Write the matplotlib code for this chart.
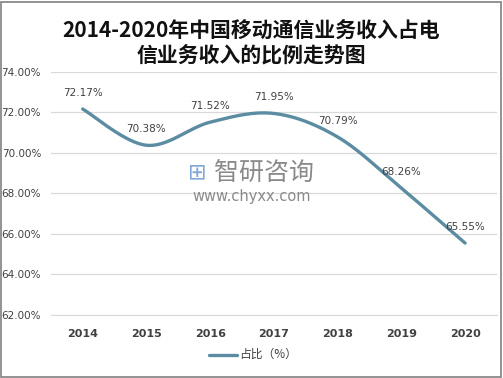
import numpy as np
import matplotlib
matplotlib.use("Agg")
import matplotlib.pyplot as plt
from matplotlib.patches import Rectangle
from matplotlib.lines import Line2D

plt.rcParams['font.family'] = ['Noto Sans CJK SC', 'DejaVu Sans']

years = ['2014', '2015', '2016', '2017', '2018', '2019', '2020']
share = [72.17, 70.38, 71.52, 71.95, 70.79, 68.26, 65.55]
yticks = [62, 64, 66, 68, 70, 72, 74]
title = '2014-2020年中国移动通信业务收入占电\n信业务收入的比例走势图'
legend_label = '占比（%）'

color = '#5B8CA2'
txt = '#404040'

fig = plt.figure(figsize=(5.03, 3.78), dpi=100)
ax = fig.add_axes([0.101, 0.1667, 0.887, 0.643])

# smooth curve (Catmull-Rom through the data points, like Excel smoothing)
x = np.arange(len(share), dtype=float)
y = np.array(share)
px = np.concatenate([[x[0]], x, [x[-1]]])
py = np.concatenate([[y[0]], y, [y[-1]]])
xs, ys = [], []
for i in range(1, len(px) - 2):
    t = np.linspace(0, 1, 40)
    for arr, out in ((px, xs), (py, ys)):
        p0, p1, p2, p3 = arr[i - 1], arr[i], arr[i + 1], arr[i + 2]
        out.extend(0.5 * ((2 * p1) + (-p0 + p2) * t + (2 * p0 - 5 * p1 + 4 * p2 - p3) * t ** 2
                          + (-p0 + 3 * p1 - 3 * p2 + p3) * t ** 3))
ax.plot(xs, ys, color=color, lw=2.4, solid_capstyle='round', zorder=3)

for xi, v in zip(x, share):
    ax.annotate(f'{v:.2f}%', (xi, v), xytext=(0, 11.5), textcoords='offset points',
                ha='center', va='center', fontsize=7.5, color=txt, family='DejaVu Sans')

ax.set_xlim(-0.5, len(years) - 0.5)
ax.set_ylim(62, 74)
ax.set_yticks(yticks)
ax.set_yticklabels([f'{t:.2f}%' for t in yticks], fontsize=7.5, color=txt, family='DejaVu Sans')
ax.set_xticks(x)
ax.set_xticklabels(years, fontsize=8, fontweight='bold', color=txt, family='DejaVu Sans')
ax.tick_params(axis='both', length=0)
ax.tick_params(axis='y', pad=7)
ax.tick_params(axis='x', pad=10)
ax.grid(axis='y', color='#D9D9D9', lw=0.9)
ax.set_axisbelow(True)
for s in ax.spines.values():
    s.set_visible(False)
ax.spines['bottom'].set_visible(True)
ax.spines['bottom'].set_color('#D9D9D9')

fig.text(0.5, 0.887, title, ha='center', va='center', fontsize=15, fontweight='bold',
         color='#111111', linespacing=1.2)

# watermark
fig.text(0.525, 0.542, '智研咨询', ha='center', va='center', fontsize=18, color='#8A8A8A')
fig.text(0.5, 0.479, 'www.chyxx.com', ha='center', va='center', fontsize=10.5, color='#8A8A8A',
         family='DejaVu Sans')
fig.text(0.392, 0.542, '⊞', ha='center', va='center', fontsize=16, color='#7FA6D6', family='DejaVu Sans')

# legend
fig.add_artist(Line2D([0.415, 0.471], [0.062, 0.062], color=color, lw=2.4,
                      solid_capstyle='round', transform=fig.transFigure))
fig.text(0.476, 0.062, legend_label, ha='left', va='center', fontsize=8.5, color=txt)

fig.add_artist(Rectangle((0.002, 0.003), 0.994, 0.993, transform=fig.transFigure,
                         fill=False, edgecolor='#808080', lw=1.2))

fig.savefig('out.png', dpi=100)
